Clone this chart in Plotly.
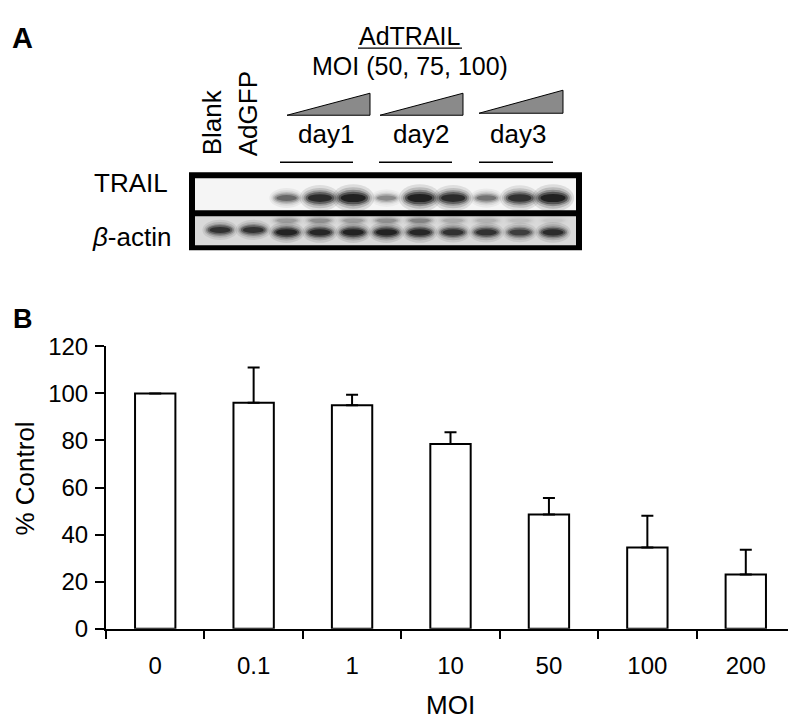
import plotly.graph_objects as go

# ---- data ----
moi_labels = ['0', '0.1', '1', '10', '50', '100', '200']
pct_control = [100, 96, 95, 78.5, 48.5, 34.5, 23]
pct_err = [0, 15, 4.5, 5, 7, 13.5, 10.5]

# western blot, relative band darkness per lane
lane_names = ['Blank', 'AdGFP', 'd1-50', 'd1-75', 'd1-100', 'd2-50', 'd2-75', 'd2-100',
              'd3-50', 'd3-75', 'd3-100']
trail_level = [0, 0, 0.5, 0.9, 1.0, 0.35, 1.0, 0.9, 0.45, 0.85, 1.0]
actin_level = [0.8, 0.8, 0.95, 0.9, 0.95, 0.95, 0.9, 0.8, 0.8, 0.7, 0.85]
actin_upper = [0, 0, 0.2, 0.25, 0.2, 0.25, 0.3, 0.15, 0.12, 0.08, 0.05]
day_labels = ['day1', 'day2', 'day3']

W, H = 796, 719
FONT = 'Liberation Sans, Arial, sans-serif'

# the page puts the figure a little right/down and squeezes it vertically,
# so positions below are given in screen pixels and converted here
OFF_X, OFF_Y, SCALE_Y = 8, 22.7, 0.9617


def px(x):
    return (x - OFF_X) / W


def py(y):
    return 1 - (y / SCALE_Y - OFF_Y) / H


fig = go.Figure()

# ---- panel B bars ----
fig.add_trace(go.Bar(
    x=moi_labels, y=pct_control, width=0.41,
    marker=dict(color='white', line=dict(color='black', width=2)),
    error_y=dict(type='data', array=pct_err, arrayminus=[0] * len(pct_err),
                 symmetric=False, color='black', thickness=2, width=6),
    showlegend=False, hoverinfo='skip'))

# invisible trace so the blot axes exist
lanes = list(range(len(lane_names)))
fig.add_trace(go.Scatter(x=lanes, y=[0] * len(lanes), xaxis='x2', yaxis='y2',
                         mode='markers', marker=dict(opacity=0), showlegend=False,
                         hoverinfo='skip'))

shapes = []

# blot frame
shapes.append(dict(type='rect', xref='paper', yref='paper', x0=px(189), x1=px(582),
                   y0=py(250), y1=py(172), fillcolor='black', line=dict(width=0)))
shapes.append(dict(type='rect', xref='paper', yref='paper', x0=px(195), x1=px(576),
                   y0=py(210), y1=py(178), fillcolor='#f5f5f5', line=dict(width=0)))
shapes.append(dict(type='rect', xref='paper', yref='paper', x0=px(195), x1=px(576),
                   y0=py(245), y1=py(216), fillcolor='#d9d9d9', line=dict(width=0)))

BLUR = [(1.35, 2.2, 0.1), (1.2, 1.7, 0.15), (1.08, 1.3, 0.25), (0.95, 1.0, 0.4), (0.8, 0.65, 0.6)]


def band(lane, row, hw, hh, level):
    if level <= 0:
        return
    for sx, sy, op in BLUR:
        shapes.append(dict(type='circle', xref='x2', yref='y2',
                           x0=lane - hw * sx, x1=lane + hw * sx,
                           y0=row - hh * sy, y1=row + hh * sy,
                           fillcolor='rgba(0,0,0,%.3f)' % (op * level),
                           line=dict(width=0)))


for i in lanes:
    band(i, 0.02, 0.3 + 0.17 * trail_level[i], 0.08 + 0.1 * trail_level[i], trail_level[i])
    band(i, 0.66, 0.38, 0.09, actin_upper[i])
    band(i, 1.0 if i > 1 else 0.93, 0.36 + 0.04 * actin_level[i],
         0.1 + 0.04 * actin_level[i], actin_level[i])

# triangles, group lines, AdTRAIL underline
tri = [(287, 370, 115, 93), (380, 463, 115, 93), (479, 563, 113, 90)]
for x0, x1, b, t in tri:
    shapes.append(dict(type='path', xref='paper', yref='paper',
                       path='M %f %f L %f %f L %f %f Z' % (px(x0), py(b), px(x1), py(b), px(x1), py(t)),
                       fillcolor='#8a8a8a', line=dict(color='black', width=1)))
for x0, x1 in [(280, 353), (379, 452), (479, 553)]:
    shapes.append(dict(type='line', xref='paper', yref='paper', x0=px(x0), x1=px(x1),
                       y0=py(162), y1=py(162), line=dict(color='black', width=1.5)))
shapes.append(dict(type='line', xref='paper', yref='paper', x0=px(358), x1=px(462),
                   y0=py(48), y1=py(48), line=dict(color='black', width=1.2)))

annotations = []


def label(text, x, y, size=26, angle=0, bold=False):
    annotations.append(dict(text='<b>%s</b>' % text if bold else text,
                            x=px(x), y=py(y), xref='paper', yref='paper',
                            showarrow=False, textangle=angle,
                            xanchor='center', yanchor='middle',
                            font=dict(family=FONT, size=size, color='black')))


label('A', 23, 38, size=29, bold=True)
label('B', 23, 319, size=27, bold=True)
label('AdTRAIL', 410, 36, size=25)
label('MOI (50, 75, 100)', 410, 66, size=25)
label('Blank', 212, 122, angle=-90)
label('AdGFP', 248, 113, angle=-90)
for name, xc in zip(day_labels, [326, 421, 518]):
    label(name, xc, 134)
label('TRAIL', 131, 183)
label('<i>β</i>-actin', 131, 237)
label('% Control', 25, 478, angle=-90)
label('MOI', 450, 704)

fig.update_layout(
    width=W, height=H,
    margin=dict(l=0, r=0, t=0, b=0),
    paper_bgcolor='white', plot_bgcolor='white',
    font=dict(family=FONT, size=24, color='black'),
    xaxis=dict(domain=[px(106), px(795)], type='category', range=[-0.5, 6.5],
               showline=True, linecolor='black', linewidth=2,
               ticks='outside', ticklen=8, tickwidth=2, tickcolor='black',
               tickson='boundaries', showgrid=False, zeroline=False,
               ticklabelstandoff=15, tickfont=dict(size=24), fixedrange=True),
    yaxis=dict(domain=[py(628), py(346)], range=[0, 120], dtick=20,
               showline=True, linecolor='black', linewidth=2,
               ticks='outside', ticklen=9, tickwidth=2, tickcolor='black',
               showgrid=False, zeroline=False, ticklabelstandoff=2,
               tickfont=dict(size=24), fixedrange=True),
    xaxis2=dict(domain=[px(189), px(582)], range=[-0.931, 10.871], visible=False,
                fixedrange=True),
    yaxis2=dict(domain=[py(250), py(173)], range=[1.514, -0.686], visible=False,
                fixedrange=True),
    shapes=shapes,
    annotations=annotations,
)

fig.write_html("out.html")
